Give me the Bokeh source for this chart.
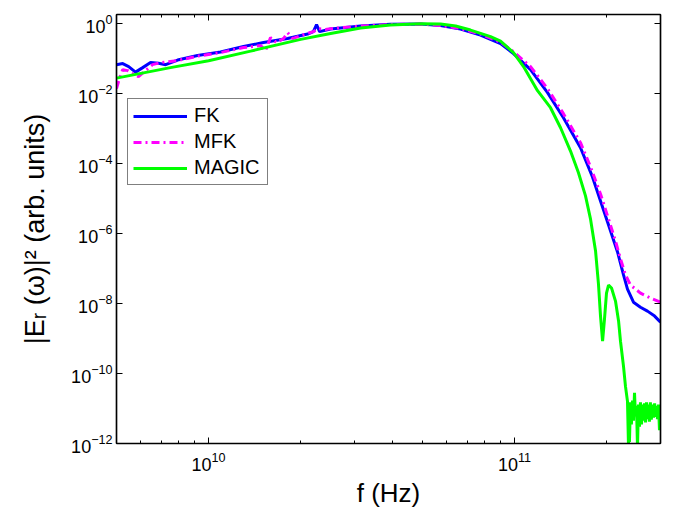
from bokeh.plotting import figure
from bokeh.models import (LogAxis, FixedTicker, LogTickFormatter, Legend, LegendItem, Range1d,
                          CustomJSTickFormatter)
from bokeh.embed import file_html
from bokeh.resources import INLINE

# ---------------- data ----------------
fk_freq = [5.0e9, 5.24e9, 5.48e9, 5.77e9, 6.09e9, 6.46e9, 6.86e9, 7.24e9, 7.92e9, 9.2e9,
           1.094e10, 1.301e10, 1.512e10, 1.812e10, 2.107e10, 2.2e10, 2.254e10, 2.305e10,
           2.505e10, 3.14e10, 3.93e10, 4.93e10, 5.73e10, 6.66e10, 7.74e10, 9.0e10, 9.92e10,
           1.128e11, 1.282e11, 1.445e11, 1.643e11, 1.798e11, 1.91e11, 2.014e11, 2.171e11,
           2.271e11, 2.34e11, 2.448e11, 2.58e11, 2.72e11, 2.87e11, 3.0e11]
fk_val = [0.068, 0.073, 0.060, 0.0416, 0.056, 0.078, 0.075, 0.068, 0.092, 0.124,
          0.156, 0.224, 0.291, 0.379, 0.51, 0.60, 0.955, 0.60,
          0.71, 0.865, 0.967, 0.987, 0.894, 0.71, 0.477, 0.273, 0.141,
          0.049, 0.0108, 0.00207, 2.86e-4, 4.2e-5, 8.6e-6, 2.16e-6, 3.0e-7,
          6.6e-8, 2.6e-8, 1.1e-8, 7.9e-9, 6.1e-9, 4.4e-9, 2.95e-9]

mfk_freq = [5.0e9, 5.12e9, 5.24e9, 5.44e9, 5.64e9, 5.9e9, 6.22e9, 6.56e9, 6.97e9, 7.92e9,
            9.2e9, 1.094e10, 1.301e10, 1.479e10, 1.535e10, 1.594e10, 1.668e10, 1.758e10,
            1.812e10, 1.882e10, 2.0e10, 2.107e10, 2.2e10, 2.288e10, 2.412e10, 2.505e10,
            3.14e10, 3.93e10, 4.93e10, 5.73e10, 6.66e10, 7.74e10, 9.0e10, 9.92e10,
            1.128e11, 1.282e11, 1.445e11, 1.643e11, 1.772e11, 1.91e11, 2.014e11, 2.138e11,
            2.22e11, 2.305e11, 2.393e11, 2.58e11, 2.782e11, 3.0e11]
mfk_val = [0.014, 0.029, 0.049, 0.046, 0.038, 0.031, 0.046, 0.068, 0.078, 0.089,
           0.119, 0.151, 0.21, 0.239, 0.172, 0.405, 0.29, 0.38,
           0.56, 0.38, 0.46, 0.53, 0.60, 0.73, 0.686, 0.73,
           0.865, 0.955, 0.987, 0.894, 0.73, 0.51, 0.30, 0.16,
           0.06, 0.014, 0.0027, 4.0e-4, 8.1e-5, 1.37e-5, 3.2e-6, 6.2e-7,
           1.9e-7, 6.6e-8, 3.4e-8, 2.0e-8, 1.44e-8, 1.1e-8]

magic_freq = [5.0e9, 7.5e9, 1.0e10, 1.372e10, 2.0e10, 2.505e10, 3.14e10, 3.93e10, 4.93e10,
              5.73e10, 6.42e10, 7.18e10, 8.35e10, 9.0e10, 9.92e10, 1.07e11, 1.189e11,
              1.311e11, 1.414e11, 1.524e11, 1.618e11, 1.706e11, 1.772e11, 1.84e11, 1.881e11,
              1.91e11, 1.94e11, 1.968e11, 1.998e11, 2.029e11, 2.075e11, 2.138e11, 2.188e11,
              2.22e11, 2.271e11, 2.305e11, 2.34e11,
              2.358e11, 2.367e11, 2.375e11, 2.393e11, 2.41e11, 2.43e11, 2.448e11, 2.467e11,
              2.485e11, 2.504e11, 2.523e11, 2.542e11, 2.561e11, 2.58e11, 2.60e11, 2.62e11,
              2.64e11, 2.66e11, 2.68e11, 2.70e11, 2.72e11, 2.74e11, 2.76e11, 2.78e11,
              2.80e11, 2.825e11, 2.846e11, 2.87e11, 2.89e11, 2.91e11, 2.933e11, 2.955e11,
              2.977e11, 3.0e11]
magic_val = [0.028, 0.056, 0.088, 0.166, 0.36, 0.53, 0.76, 0.92, 1.0,
             0.987, 0.865, 0.664, 0.433, 0.32, 0.15, 0.06, 0.0123,
             0.004, 0.00107, 2.3e-4, 5.5e-5, 1.2e-5, 2.6e-6, 3.2e-7, 3.6e-8,
             4.4e-9, 8.4e-10, 3.6e-9, 2.0e-8, 3.4e-8, 2.8e-8, 1.18e-8, 3.2e-9,
             8.4e-10, 1.6e-10, 4.3e-11, 1.6e-11,
             8e-13, 1.2e-11, 1.1e-12, 1.5e-11, 3.5e-12, 1.7e-11, 4.5e-12, 2.8e-11,
             6e-12, 1.2e-11, 8e-13, 1.3e-11, 3e-12, 1.5e-11, 3.5e-12, 1.3e-11,
             4.5e-12, 1.4e-11, 4e-12, 1.5e-11, 5e-12, 1.3e-11, 4.2e-12, 1.5e-11,
             4.8e-12, 1.3e-11, 5.5e-12, 1.4e-11, 5.8e-12, 1.2e-11, 5e-12, 1.3e-11,
             2.4e-12, 8e-12]

series_names = ["FK", "MFK", "MAGIC"]
series_colors = ["#0000FF", "#FF00FF", "#00FF00"]

x_major_ticks = [1e10, 1e11]
y_major_ticks = [1e-12, 1e-10, 1e-8, 1e-6, 1e-4, 1e-2, 1e0]
x_limits = (5e9, 3e11)
y_limits = (1e-12, 1.85)

x_label = "f (Hz)"
y_label = "|E\u1d63 (\u03c9)|\u00b2 (arb. units)"

# ---------------- figure ----------------
FONT = "Liberation Sans"

p = figure(
    x_axis_type="log", y_axis_type="log",
    x_range=Range1d(*x_limits), y_range=Range1d(*y_limits),
    frame_width=544, frame_height=429,
    min_border_left=116, min_border_right=17, min_border_top=14, min_border_bottom=67,
    output_backend="svg", toolbar_location=None,
    background_fill_color="white", border_fill_color="white",
)
p.xgrid.visible = False
p.ygrid.visible = False
p.outline_line_color = "black"
p.outline_line_width = 1.2

# minor x ticks between decades
x_minor = []
for dec in [1e9, 1e10, 1e11]:
    for m in range(2, 10):
        v = m * dec
        if x_limits[0] <= v <= x_limits[1]:
            x_minor.append(v)


def style_axis(ax):
    ax.axis_line_color = "black"
    ax.axis_line_width = 1.5
    ax.major_tick_in = 6
    ax.major_tick_out = 0
    ax.minor_tick_in = 3
    ax.minor_tick_out = 0
    ax.major_tick_line_color = "black"
    ax.minor_tick_line_color = "black"
    ax.major_label_text_font = FONT
    ax.major_label_text_color = "black"
    ax.major_label_text_font_size = "18px"
    ax.axis_label_text_font = FONT
    ax.axis_label_text_color = "black"
    ax.axis_label_text_font_style = "normal"
    ax.axis_label_text_font_size = "26px"


xa = p.xaxis[0]
xa.ticker = FixedTicker(ticks=x_major_ticks, minor_ticks=x_minor)
xa.formatter = LogTickFormatter()
style_axis(xa)
xa.major_label_standoff = 8
xa.axis_label = x_label
xa.axis_label_standoff = 4

ya = p.yaxis[0]
ya.ticker = FixedTicker(ticks=y_major_ticks, minor_ticks=[])
ya.formatter = LogTickFormatter()
style_axis(ya)
ya.major_label_standoff = 4
ya.axis_label = y_label
ya.axis_label_text_font_size = "27px"
ya.axis_label_standoff = 18

top = LogAxis(ticker=FixedTicker(ticks=x_major_ticks, minor_ticks=x_minor),
              formatter=CustomJSTickFormatter(code="return '';"))
style_axis(top)
top.major_label_standoff = 0
p.add_layout(top, "above")
right = LogAxis(ticker=FixedTicker(ticks=y_major_ticks, minor_ticks=[]),
                formatter=CustomJSTickFormatter(code="return '';"))
style_axis(right)
right.major_label_standoff = 0
p.add_layout(right, "right")

# ---------------- lines ----------------
r_fk = p.line(fk_freq, fk_val, line_color=series_colors[0], line_width=3)
r_mfk = p.line(mfk_freq, mfk_val, line_color=series_colors[1], line_width=3, line_dash="8 4 2 4")
r_magic = p.line(magic_freq, magic_val, line_color=series_colors[2], line_width=3)

legend = Legend(
    items=[LegendItem(label=series_names[0], renderers=[r_fk]),
           LegendItem(label=series_names[1], renderers=[r_mfk]),
           LegendItem(label=series_names[2], renderers=[r_magic])],
    location=(11, 258),
    label_text_font=FONT,
    label_text_font_size="20px",
    label_text_color="black",
    label_standoff=7,
    label_width=68,
    glyph_width=54,
    glyph_height=20,
    label_height=20,
    spacing=3,
    padding=5,
    margin=0,
    border_line_color="black",
    border_line_width=1.2,
    background_fill_alpha=1.0,
)
p.add_layout(legend, "center")

open("out.html", "w").write(file_html(p, INLINE))
